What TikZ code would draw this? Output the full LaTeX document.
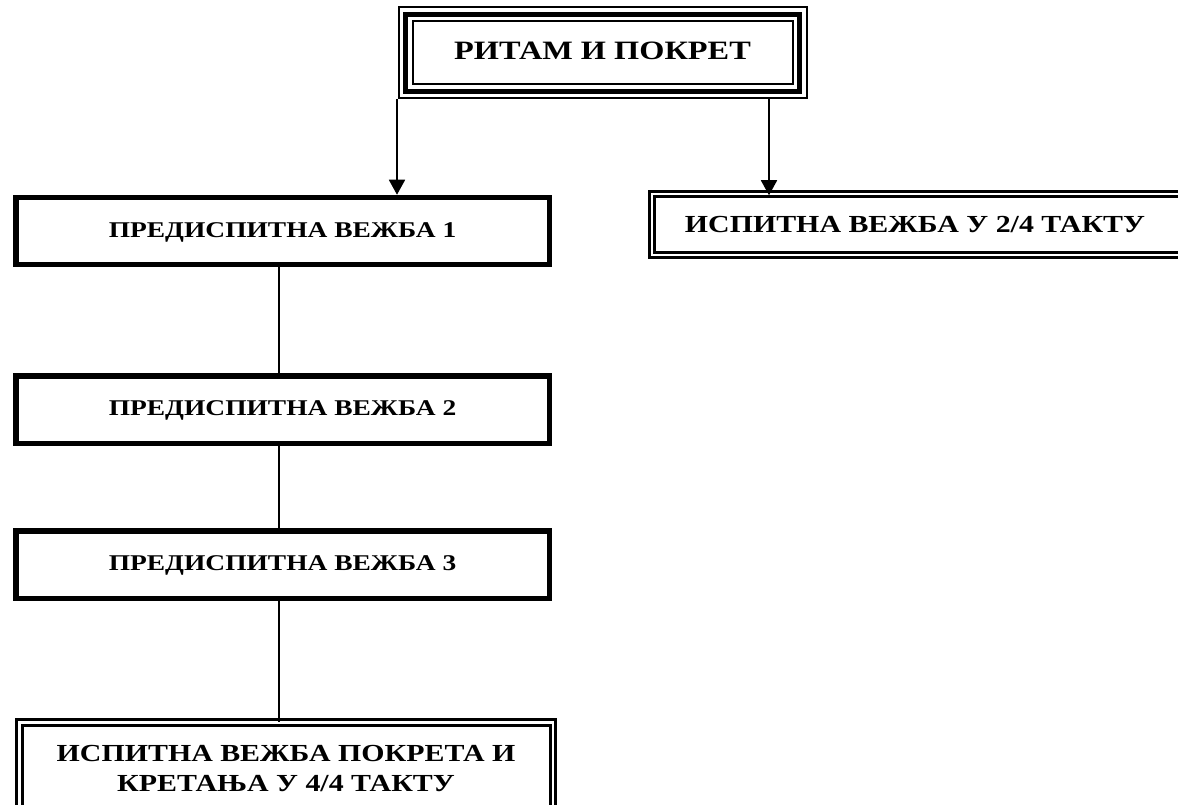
\documentclass[tikz,border=0pt]{standalone}
\usepackage{fontspec}
\setmainfont{Liberation Serif}[FakeStretch=1.22]
\usetikzlibrary{arrows.meta}
\tikzset{
  thickbox/.style={draw=black, line width=5.5pt, inner sep=0pt, outer sep=0pt,
    font=\fontsize{22.5}{27}\selectfont\bfseries, text height=14.9pt, text depth=2pt},
  dblbox/.style={draw=black, double=white, line width=3pt, double distance=2.5pt,
    inner sep=0pt, outer sep=0pt},
  triplebox/.style={draw=black, line width=4.5pt, inner sep=0pt, outer sep=0pt},
  conn/.style={draw=black, line width=1.8pt},
  arr/.style={draw=black, line width=1.8pt, -{Triangle[width=16pt,length=15pt]}},
}
\begin{document}
\begin{tikzpicture}[x=1pt,y=-1pt]
\useasboundingbox (0,0) rectangle (1178,805);
\clip (0,0) rectangle (1178,805);
% top box (thin-thick-thin)
\node[triplebox, minimum width=394pt, minimum height=77pt,
  font=\fontsize{26.5}{30}\selectfont\bfseries, text height=17.5pt, text depth=5pt]
  (top) at (602.5,53) {РИТАМ И ПОКРЕТ};
\draw[line width=2pt] ([xshift=-7pt,yshift=7pt]top.north west) rectangle ([xshift=7pt,yshift=-7pt]top.south east);
\draw[line width=2pt] ([xshift=7pt,yshift=-7pt]top.north west) rectangle ([xshift=-7pt,yshift=7pt]top.south east);
% left column
\node[thickbox, minimum width=533.5pt, minimum height=66.5pt] (b1) at (282.5,231) {ПРЕДИСПИТНА ВЕЖБА 1};
\node[thickbox, minimum width=533.5pt, minimum height=67.5pt] (b2) at (282.5,409.5) {ПРЕДИСПИТНА ВЕЖБА 2};
\node[thickbox, minimum width=533.5pt, minimum height=67.5pt] (b3) at (282.5,564.5) {ПРЕДИСПИТНА ВЕЖБА 3};
\node[dblbox, anchor=north, minimum width=533.5pt, minimum height=92.75pt, align=center,
  font=\fontsize{24.5}{30}\selectfont\bfseries] (b4) at (286,722.25)
  {ИСПИТНА ВЕЖБА ПОКРЕТА И\\КРЕТАЊА У 4/4 ТАКТУ};
% right box
\node[dblbox, anchor=west, minimum width=531.25pt, minimum height=60.5pt] (r1) at (651.75,224.5) {};
\node[font=\fontsize{24.5}{28}\selectfont\bfseries, inner sep=0pt, text height=16.2pt, text depth=0pt] (r1t) at (915,224.5) {ИСПИТНА ВЕЖБА У 2/4 ТАКТУ};
% connectors
\coordinate (a1) at (397,99);
\coordinate (a2) at (769,99);
\coordinate (c) at (279,0);
\draw[arr, shorten >=3pt] (a1) -- (b1.north -| a1);
\draw[arr, shorten >=-1pt] (a2) -- (r1.north -| a2);
\draw[conn] (b1.south -| c) -- (b2.north -| c);
\draw[conn] (b2.south -| c) -- (b3.north -| c);
\draw[conn] (b3.south -| c) -- (b4.north -| c);
\end{tikzpicture}
\end{document}
